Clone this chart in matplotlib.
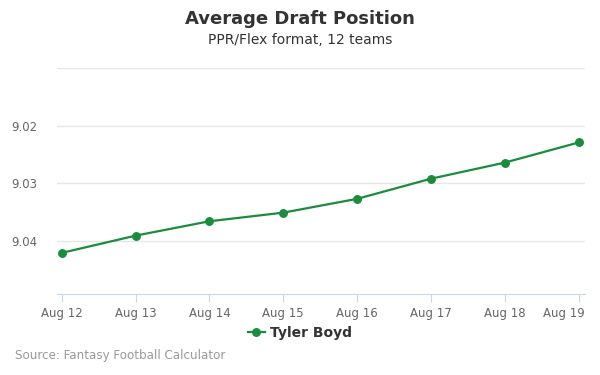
import matplotlib

matplotlib.use("Agg")
import matplotlib.pyplot as plt
from matplotlib.lines import Line2D
from matplotlib.transforms import ScaledTranslation

dates = ["Aug 12", "Aug 13", "Aug 14", "Aug 15", "Aug 16", "Aug 17", "Aug 18", "Aug 19"]
adp = [9.0421, 9.0391, 9.0366, 9.0351, 9.0327, 9.0292, 9.0264, 9.0229]
ytick_vals = [9.01, 9.02, 9.03, 9.04]
ytick_labels = ["", "9.02", "9.03", "9.04"]

GREEN = "#1b8c3d"
GRID = "#e6e6e6"
TEXT = "#666666"

fig = plt.figure(figsize=(6, 3.75), dpi=100)
ax = fig.add_axes([0.095, 0.2152, 0.88, 0.6027])

x = list(range(len(dates)))
ax.plot(x, adp, color=GREEN, lw=1.6, marker="o", ms=5.4, zorder=3, clip_on=False)

ax.set_xlim(-0.064, len(dates) - 1 + 0.085)
ax.set_ylim(9.0493, 9.01)
ax.set_yticks(ytick_vals)
ax.set_yticklabels(ytick_labels)
ax.set_xticks(x)
ax.set_xticklabels(dates)

ax.grid(axis="y", color=GRID, lw=1)
ax.set_axisbelow(True)
for s in ("top", "right", "left"):
    ax.spines[s].set_visible(False)
ax.spines["bottom"].set_color("#ccd6eb")
ax.tick_params(axis="y", length=0, labelsize=8.5, labelcolor=TEXT, pad=14)
ax.tick_params(axis="x", length=6, color="#ccd6eb", labelsize=8.5, labelcolor=TEXT, pad=3)
# last label pulled inside the chart, as in the original
last = ax.get_xticklabels()[-1]
last.set_transform(last.get_transform() + ScaledTranslation(-0.15, 0, fig.dpi_scale_trans))

fig.text(0.5, 0.948, "Average Draft Position", ha="center", va="center",
         fontsize=13, fontweight="bold", color="#333333")
fig.text(0.5, 0.892, "PPR/Flex format, 12 teams", ha="center", va="center",
         fontsize=10, color="#333333")

handle = Line2D([], [], color=GREEN, lw=1.6, marker="o", ms=5.4)
leg = fig.legend([handle], ["Tyler Boyd"], loc="center", bbox_to_anchor=(0.5, 0.112),
                 frameon=False, handlelength=1.2, handletextpad=0.4,
                 prop={"size": 10, "weight": "bold"})
leg.get_texts()[0].set_color("#333333")

fig.text(0.025, 0.051, "Source: Fantasy Football Calculator", ha="left", va="center",
         fontsize=8.6, color="#999999")

fig.savefig("out.png", dpi=100)
